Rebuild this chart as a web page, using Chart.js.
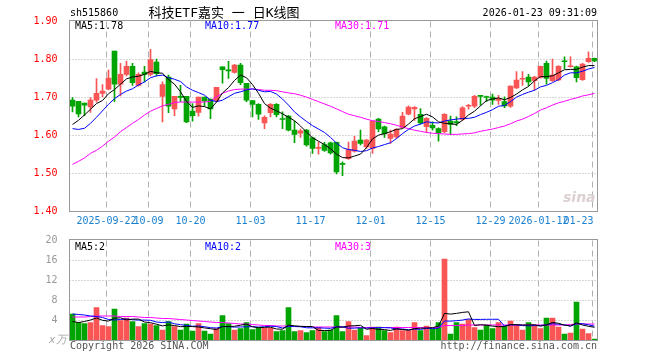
<!DOCTYPE html>
<html>
<head>
<meta charset="utf-8">
<title>科技ETF嘉实 日K线图</title>
<script src="https://cdn.jsdelivr.net/npm/chart.js@4.4.1/dist/chart.umd.min.js"></script>
<style>
  html, body { margin: 0; padding: 0; background: #fff; }
  #wrap { position: relative; width: 660px; height: 360px; overflow: hidden; }
  #wrap canvas { position: absolute; left: 0; top: 0; }
  .t { position: absolute; white-space: nowrap; font-family: 'DejaVu Sans Mono', monospace; font-size: 10px; line-height: 12px; }
</style>
</head>
<body>
<div id="wrap">
  <canvas id="kline" width="660" height="360"></canvas>
  <canvas id="volume" width="660" height="360"></canvas>
  <div class="t" style="left:70px;top:7px;color:#000">sh515860</div>
  <div class="t" style="left:224px;top:5px;transform:translateX(-50%);font-size:13px;line-height:15px;font-family:'DejaVu Sans Mono','Noto Sans CJK SC',monospace;color:#000">科技ETF嘉实 一 日K线图</div>
  <div class="t" style="right:63px;top:7px;color:#000">2026-01-23 09:31:09</div>
  <div class="t" id="ma5Txt" style="left:75px;top:20px;color:#000"></div>
  <div class="t" id="ma10Txt" style="left:205px;top:20px;color:#0000ff"></div>
  <div class="t" id="ma30Txt" style="left:335px;top:20px;color:#ff00ff"></div>
  <div class="t" id="vma5Txt" style="left:75px;top:241px;color:#000"></div>
  <div class="t" id="vma10Txt" style="left:205px;top:241px;color:#0000ff"></div>
  <div class="t" id="vma30Txt" style="left:335px;top:241px;color:#ff00ff"></div>
  <div class="t" style="left:49px;top:334px;color:#aaa;font-size:11px;font-style:italic">x万</div>
  <div class="t" style="left:70px;top:340px;color:#555">Copyright 2026 SINA.COM</div>
  <div class="t" style="right:63px;top:340px;color:#555">http://finance.sina.com.cn</div>
  <div class="t" style="left:563px;top:189px;color:#dcd0d0;font-family:'DejaVu Sans',sans-serif;font-size:14px;line-height:16px;font-weight:bold;font-style:italic">sina</div>
</div>
<script>
// trading days shown on the chart
const dates = ['2025-09-12','2025-09-15','2025-09-16','2025-09-17','2025-09-18','2025-09-19',
  '2025-09-22','2025-09-23','2025-09-24','2025-09-25','2025-09-26','2025-09-29','2025-09-30',
  '2025-10-09','2025-10-10','2025-10-13','2025-10-14','2025-10-15','2025-10-16','2025-10-17',
  '2025-10-20','2025-10-21','2025-10-22','2025-10-23','2025-10-24','2025-10-27','2025-10-28','2025-10-29','2025-10-30','2025-10-31',
  '2025-11-03','2025-11-04','2025-11-05','2025-11-06','2025-11-07','2025-11-10','2025-11-11','2025-11-12','2025-11-13','2025-11-14',
  '2025-11-17','2025-11-18','2025-11-19','2025-11-20','2025-11-21','2025-11-24','2025-11-25','2025-11-26','2025-11-27','2025-11-28',
  '2025-12-01','2025-12-02','2025-12-03','2025-12-04','2025-12-05','2025-12-08','2025-12-09','2025-12-10','2025-12-11','2025-12-12',
  '2025-12-15','2025-12-16','2025-12-17','2025-12-18','2025-12-19','2025-12-22','2025-12-23','2025-12-24','2025-12-25','2025-12-26',
  '2025-12-29','2025-12-30','2025-12-31','2026-01-05','2026-01-06','2026-01-07','2026-01-08','2026-01-09',
  '2026-01-12','2026-01-13','2026-01-14','2026-01-15','2026-01-16','2026-01-19','2026-01-20','2026-01-21','2026-01-22','2026-01-23'];

const tickDates = ['2025-09-22','2025-10-09','2025-10-20','2025-11-03','2025-11-17','2025-12-01','2025-12-15','2025-12-29','2026-01-12','2026-01-23'];
const tickLabels = ['2025-09-22','10-09','10-20','11-03','11-17','12-01','12-15','12-29','2026-01-12','01-23'];

const opens = [1.693,1.690,1.685,1.675,1.693,1.711,1.722,1.822,1.735,1.761,
  1.782,1.732,1.767,1.761,1.793,1.703,1.754,1.670,1.703,1.703,
  1.664,1.661,1.701,1.696,1.692,1.781,1.772,1.766,1.785,1.737,
  1.692,1.682,1.633,1.660,1.682,1.643,1.651,1.614,1.606,1.614,
  1.594,1.566,1.576,1.581,1.582,1.527,1.539,1.559,1.588,1.570,
  1.566,1.643,1.623,1.592,1.596,1.621,1.656,1.670,1.656,1.623,
  1.627,1.618,1.610,1.638,1.635,1.642,1.677,1.677,1.704,1.701,
  1.701,1.692,1.689,1.677,1.725,1.748,1.754,1.744,1.753,1.790,
  1.744,1.746,1.795,1.781,1.781,1.747,1.794,1.803];
const highs = [1.700,1.690,1.685,1.700,1.750,1.734,1.772,1.822,1.790,1.796,
  1.790,1.765,1.782,1.827,1.801,1.741,1.759,1.703,1.732,1.703,
  1.684,1.701,1.701,1.696,1.727,1.781,1.795,1.787,1.790,1.737,
  1.692,1.684,1.652,1.684,1.684,1.662,1.653,1.638,1.617,1.616,
  1.596,1.583,1.582,1.583,1.583,1.531,1.583,1.598,1.614,1.590,
  1.638,1.645,1.625,1.614,1.618,1.661,1.678,1.676,1.671,1.647,
  1.636,1.620,1.658,1.651,1.649,1.676,1.682,1.706,1.706,1.704,
  1.709,1.706,1.702,1.731,1.768,1.768,1.761,1.756,1.783,1.796,
  1.801,1.784,1.807,1.807,1.783,1.790,1.820,1.804];
const lows = [1.662,1.649,1.652,1.661,1.688,1.702,1.720,1.689,1.704,1.757,
  1.732,1.730,1.741,1.757,1.757,1.636,1.660,1.652,1.689,1.634,
  1.638,1.651,1.677,1.644,1.690,1.738,1.750,1.764,1.734,1.689,
  1.649,1.642,1.618,1.649,1.649,1.618,1.612,1.581,1.595,1.572,
  1.553,1.551,1.558,1.551,1.499,1.494,1.537,1.556,1.575,1.566,
  1.553,1.610,1.595,1.579,1.592,1.619,1.654,1.640,1.630,1.608,
  1.614,1.585,1.607,1.603,1.626,1.640,1.669,1.673,1.680,1.689,
  1.682,1.682,1.673,1.674,1.723,1.732,1.731,1.719,1.751,1.735,
  1.742,1.744,1.776,1.780,1.741,1.745,1.792,1.794];
const closes = [1.677,1.657,1.680,1.693,1.711,1.717,1.751,1.735,1.761,1.782,
  1.739,1.761,1.761,1.800,1.763,1.734,1.677,1.703,1.700,1.636,
  1.652,1.701,1.691,1.670,1.727,1.773,1.770,1.785,1.739,1.693,
  1.682,1.656,1.648,1.682,1.655,1.642,1.614,1.603,1.612,1.575,
  1.566,1.568,1.561,1.554,1.504,1.524,1.563,1.585,1.579,1.588,
  1.638,1.617,1.604,1.604,1.616,1.651,1.675,1.674,1.633,1.645,
  1.620,1.607,1.656,1.629,1.634,1.673,1.679,1.703,1.703,1.700,
  1.693,1.697,1.678,1.730,1.746,1.750,1.741,1.754,1.782,1.750,
  1.759,1.782,1.794,1.783,1.752,1.788,1.803,1.796];

const ma5 = [1.629,1.640,1.654,1.669,1.684,1.692,1.710,1.721,1.735,1.749,
  1.754,1.756,1.761,1.769,1.765,1.764,1.747,1.735,1.715,1.690,
  1.674,1.678,1.676,1.670,1.688,1.712,1.726,1.745,1.759,1.752,
  1.734,1.711,1.684,1.672,1.665,1.657,1.648,1.639,1.625,1.609,
  1.594,1.585,1.576,1.565,1.551,1.542,1.541,1.546,1.551,1.568,
  1.591,1.601,1.605,1.610,1.616,1.618,1.630,1.644,1.650,1.656,
  1.649,1.636,1.632,1.631,1.629,1.640,1.654,1.664,1.678,1.692,
  1.696,1.699,1.694,1.700,1.709,1.720,1.729,1.744,1.755,1.755,
  1.757,1.765,1.773,1.774,1.774,1.780,1.784,1.784];
const ma10 = [1.618,1.616,1.619,1.632,1.648,1.665,1.682,1.697,1.708,1.717,
  1.723,1.733,1.741,1.752,1.757,1.759,1.752,1.748,1.742,1.728,
  1.719,1.713,1.706,1.693,1.689,1.693,1.702,1.711,1.715,1.720,
  1.723,1.719,1.715,1.716,1.709,1.696,1.680,1.662,1.649,1.637,
  1.626,1.617,1.608,1.595,1.580,1.568,1.563,1.561,1.558,1.560,
  1.567,1.571,1.576,1.581,1.592,1.605,1.616,1.625,1.630,1.636,
  1.634,1.633,1.638,1.641,1.643,1.645,1.645,1.648,1.655,1.661,
  1.668,1.677,1.679,1.689,1.701,1.708,1.714,1.719,1.728,1.732,
  1.739,1.747,1.759,1.765,1.765,1.769,1.775,1.779];
const ma30 = [1.524,1.532,1.541,1.553,1.561,1.572,1.585,1.596,1.610,1.621,
  1.632,1.642,1.654,1.664,1.671,1.678,1.682,1.687,1.688,1.688,
  1.688,1.688,1.688,1.690,1.702,1.711,1.717,1.721,1.722,1.722,
  1.722,1.721,1.719,1.719,1.718,1.715,1.712,1.710,1.706,1.701,
  1.695,1.689,1.683,1.677,1.670,1.663,1.656,1.652,1.648,1.643,
  1.639,1.637,1.634,1.631,1.627,1.622,1.618,1.614,1.611,1.608,
  1.606,1.605,1.604,1.603,1.603,1.604,1.605,1.607,1.611,1.614,
  1.617,1.621,1.625,1.631,1.638,1.643,1.650,1.658,1.667,1.673,
  1.680,1.686,1.690,1.695,1.699,1.704,1.707,1.711];

// volume, 万手
const volumes = [5.3,3.6,3.4,3.6,6.6,3.0,2.8,6.3,4.0,4.5,
  3.8,2.8,3.4,3.3,3.0,2.1,3.8,2.8,2.1,3.3,
  1.9,3.4,1.9,1.3,2.4,5.0,3.4,2.1,2.4,3.6,
  2.2,2.5,2.5,2.5,1.8,2.0,6.6,1.8,2.0,1.6,
  2.0,2.6,1.8,2.1,5.0,1.8,3.8,2.1,2.5,1.0,
  2.7,2.7,2.0,1.6,2.7,2.0,2.0,3.6,2.0,2.9,
  2.3,3.6,16.3,1.3,3.6,3.3,4.2,2.6,2.1,3.1,
  2.4,3.6,2.8,3.9,3.1,2.1,3.6,3.1,2.4,4.5,
  4.5,2.7,1.3,1.5,7.7,2.3,1.4,0.3];
const vma5 = [3.8,3.6,3.8,4.1,4.50,4.04,3.88,4.46,4.54,4.12,
  4.28,4.28,3.70,3.56,3.26,2.92,3.12,3.00,2.76,2.82,
  2.78,2.70,2.52,2.36,2.18,2.80,2.80,2.84,3.06,3.30,
  2.74,2.56,2.64,2.66,2.30,2.26,3.08,2.94,2.84,2.80,
  2.80,2.00,2.00,2.02,2.70,2.66,2.90,2.96,3.04,2.24,
  2.42,2.20,2.18,2.00,2.34,2.20,2.06,2.38,2.46,2.50,
  2.56,2.88,5.42,5.28,5.42,5.62,5.74,3.00,3.16,3.06,
  2.88,2.76,2.80,3.16,3.16,3.10,3.10,3.16,2.86,3.14,
  3.62,3.44,3.08,2.90,3.54,3.10,2.84,2.64];
const vma10 = [5.3,5.2,5.1,4.9,4.8,4.6,4.2,4.1,4.2,4.31,
  4.16,4.08,4.08,4.05,3.69,3.60,3.70,3.35,3.16,3.04,
  2.85,2.91,2.76,2.56,2.50,2.79,2.75,2.68,2.71,2.74,
  2.77,2.68,2.74,2.86,2.80,2.50,2.82,2.79,2.75,2.55,
  2.53,2.54,2.47,2.43,2.75,2.73,2.45,2.48,2.53,2.47,
  2.54,2.55,2.57,2.52,2.29,2.31,2.13,2.28,2.23,2.42,
  2.38,2.47,3.90,3.87,3.96,4.09,4.31,4.21,4.22,4.24,
  4.25,4.25,2.90,3.16,3.11,2.99,2.93,2.98,3.01,3.15,
  3.36,3.27,3.12,2.88,3.34,3.36,3.14,2.86];
const vma30 = [4.7,4.7,4.7,4.8,4.9,4.9,4.9,4.9,4.8,4.8,
  4.8,4.7,4.6,4.6,4.5,4.4,4.4,4.3,4.2,4.1,
  4.0,3.9,3.8,3.7,3.6,3.6,3.5,3.4,3.3,3.3,
  3.2,3.1,3.0,3.0,2.9,2.9,2.9,2.8,2.8,2.8,
  2.7,2.7,2.7,2.7,2.7,2.7,2.7,2.7,2.6,2.6,
  2.6,2.6,2.6,2.6,2.6,2.6,2.6,2.6,2.6,2.6,
  2.6,2.6,3.0,3.0,3.0,3.0,3.1,3.1,3.1,3.1,
  3.1,3.1,3.1,3.1,3.1,3.1,3.1,3.1,3.1,3.1,
  3.1,3.1,3.1,3.2,3.3,3.3,3.3,3.3];

const upColor = '#fa5555';
const downColor = '#00a400';
const monoFont = "'DejaVu Sans Mono', monospace";

let candleColors = opens.map((o, i) => closes[i] >= o ? upColor : downColor);

// grid, frame and date labels drawn from the scales
const panePlugin = {
  id: 'pane',
  beforeDatasetsDraw(chart) {
    const { ctx, chartArea: a, scales: { x, y } } = chart;
    ctx.save();
    ctx.lineWidth = 1;
    ctx.strokeStyle = '#b0b0b0';
    ctx.setLineDash([1, 2]);
    y.ticks.forEach(t => {
      if (t.value <= y.min || t.value >= y.max) return;
      const py = Math.floor(y.getPixelForValue(t.value)) + 0.5;
      ctx.beginPath();
      ctx.moveTo(a.left, py);
      ctx.lineTo(a.right, py);
      ctx.stroke();
    });
    ctx.setLineDash([6, 4]);
    tickDates.forEach(d => {
      const px = Math.round(x.getPixelForValue(dates.indexOf(d)) - 3) + 0.5;
      ctx.beginPath();
      ctx.moveTo(px, a.top);
      ctx.lineTo(px, a.bottom);
      ctx.stroke();
    });
    ctx.restore();
  },
  afterDraw(chart, args, opts) {
    const { ctx, chartArea: a, scales: { x } } = chart;
    ctx.save();
    ctx.strokeStyle = '#999';
    ctx.lineWidth = 1;
    ctx.strokeRect(a.left, Math.floor(a.top) - 0.5, a.right - a.left, a.bottom - Math.floor(a.top) + 0.5);
    if (opts.dateLabels) {
      ctx.fillStyle = '#1a80d0';
      ctx.font = '10px ' + monoFont;
      ctx.textBaseline = 'middle';
      tickDates.forEach((d, k) => {
        const px = Math.round(x.getPixelForValue(dates.indexOf(d)) - 3) + 0.5;
        const last = k === tickDates.length - 1;
        ctx.textAlign = last ? 'right' : 'center';
        ctx.fillText(tickLabels[k], last ? px + 1 : px, 221);
      });
    }
    ctx.restore();
  }
};

function lineSet(data, color) {
  return {
    type: 'line', data: data, borderColor: color, borderWidth: 1,
    pointRadius: 0, fill: false, tension: 0, order: 0
  };
}

let renderKline = () => {
  new Chart(document.getElementById('kline'), {
    type: 'bar',
    data: {
      labels: dates,
      datasets: [
        lineSet(ma5, '#000000'),
        lineSet(ma10, '#0000ff'),
        lineSet(ma30, '#ff00ff'),
        {
          data: lows.map((l, i) => [l, highs[i]]),
          backgroundColor: candleColors,
          barThickness: 1, grouped: false, order: 2
        },
        {
          data: opens.map((o, i) => [o, closes[i]]),
          backgroundColor: candleColors,
          barThickness: 5, grouped: false, minBarLength: 1, order: 1
        },
      ],
    },
    options: {
      responsive: false,
      animation: false,
      layout: { padding: { left: 0, right: 62.5, top: 21.5, bottom: 148.5 } },
      plugins: { legend: { display: false }, tooltip: { enabled: false }, pane: { dateLabels: true } },
      scales: {
        x: { display: false, offset: true },
        y: {
          min: 1.4, max: 1.9,
          grid: { display: false }, border: { display: false },
          ticks: { stepSize: 0.1, color: '#ff0000', padding: 4, font: { family: monoFont, size: 10 }, callback: v => v.toFixed(2) },
          afterFit: s => { s.width = 69.5; }
        }
      }
    },
    plugins: [panePlugin]
  });
};

let renderVolume = () => {
  new Chart(document.getElementById('volume'), {
    type: 'bar',
    data: {
      labels: dates,
      datasets: [
        lineSet(vma5, '#000000'),
        lineSet(vma10, '#0000ff'),
        lineSet(vma30, '#ff00ff'),
        {
          data: volumes,
          backgroundColor: candleColors,
          barThickness: 5, grouped: false, order: 1
        },
      ],
    },
    options: {
      responsive: false,
      animation: false,
      layout: { padding: { left: 0, right: 62.5, top: 240.5, bottom: 19.5 } },
      plugins: { legend: { display: false }, tooltip: { enabled: false }, pane: { dateLabels: false } },
      scales: {
        x: { display: false, offset: true },
        y: {
          min: 0, max: 20,
          grid: { display: false }, border: { display: false },
          ticks: { stepSize: 4, color: '#999', padding: 4, font: { family: monoFont, size: 10 }, callback: v => v === 0 ? '' : v },
          afterFit: s => { s.width = 69.5; }
        }
      }
    },
    plugins: [panePlugin]
  });
};

// sina cuts the legend values, it does not round them
function cut(v, digits) {
  const f = Math.pow(10, digits);
  return (Math.floor(v * f + 1e-9) / f).toFixed(digits);
}

const last = closes.length - 1;
document.getElementById('ma5Txt').textContent = 'MA5:' + cut(ma5[last], 2);
document.getElementById('ma10Txt').textContent = 'MA10:' + cut(ma10[last], 2);
document.getElementById('ma30Txt').textContent = 'MA30:' + cut(ma30[last], 2);
document.getElementById('vma5Txt').textContent = 'MA5:' + cut(vma5[last], 0);
document.getElementById('vma10Txt').textContent = 'MA10:' + cut(vma10[last], 0);
document.getElementById('vma30Txt').textContent = 'MA30:' + cut(vma30[last], 0);

renderKline();
renderVolume();
</script>
</body>
</html>
